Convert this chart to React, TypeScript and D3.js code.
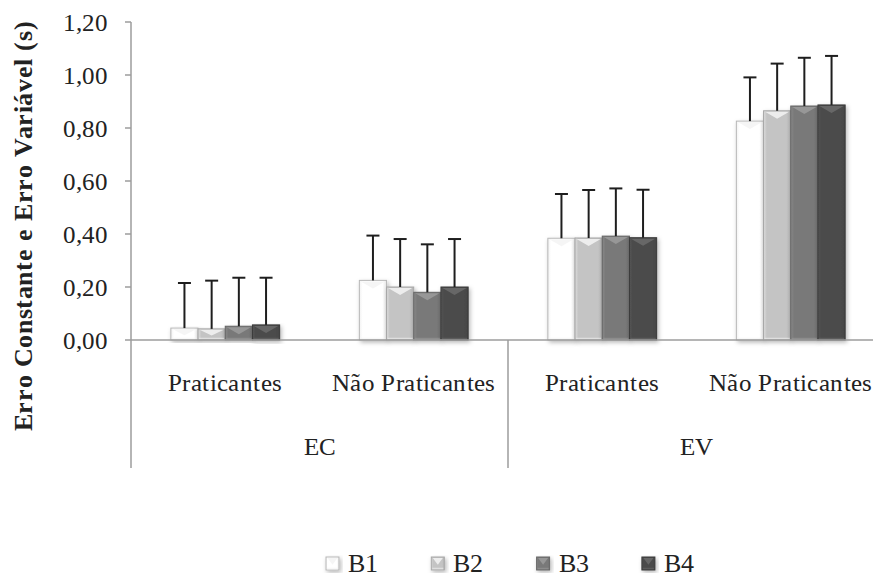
import React from "react";
import * as d3 from "d3";

// Groups of the two-level category axis
const groups = ["EC", "EV"];
const subgroups = ["Praticantes", "Não Praticantes"];
const series = ["B1", "B2", "B3", "B4"];

// Mean values per series, ordered EC-Prat, EC-Não, EV-Prat, EV-Não
const meanB1 = [0.045, 0.225, 0.384, 0.826];
const meanB2 = [0.042, 0.2, 0.385, 0.865];
const meanB3 = [0.052, 0.18, 0.392, 0.883];
const meanB4 = [0.057, 0.2, 0.386, 0.887];

// Standard deviations (upper error bars)
const sdB1 = [0.17, 0.169, 0.167, 0.165];
const sdB2 = [0.182, 0.181, 0.181, 0.178];
const sdB3 = [0.183, 0.181, 0.18, 0.182];
const sdB4 = [0.178, 0.181, 0.181, 0.185];

const yTicks = [0, 0.2, 0.4, 0.6, 0.8, 1.0, 1.2];

const means = [meanB1, meanB2, meanB3, meanB4];
const sds = [sdB1, sdB2, sdB3, sdB4];

const fills = ["#ffffff", "#c4c4c4", "#797979", "#4b4b4b"];
const edges = ["#b8b8b8", "#a8a8a8", "#666666", "#3a3a3a"];
const bevels = ["#f4f4f4", "#f2f2f2", "#9a9a9a", "#6a6a6a"];

const W = 873;
const H = 578;
const FONT = "ChartSerif, 'Liberation Serif', Tinos, 'Times New Roman', 'DejaVu Serif', 'Noto Serif', serif";

const fontCss = `
@font-face { font-family: ChartSerif; font-weight: 400; src: local("Liberation Serif"), local("LiberationSerif"), local("LiberationSerif-Regular"), local("DejaVu Serif"), local("DejaVuSerif"); }
@font-face { font-family: ChartSerif; font-weight: 700; src: local("Liberation Serif Bold"), local("LiberationSerif-Bold"), local("DejaVu Serif Bold"), local("DejaVuSerif-Bold"); }
`;

export default function App() {
  const left = 131;
  const band = 188.5;
  const cats: string[] = [];
  groups.forEach((g) => subgroups.forEach((s) => cats.push(g + "|" + s)));

  const x = d3
    .scaleBand<string>()
    .domain(cats)
    .range([left, left + band * cats.length])
    .paddingInner(0)
    .paddingOuter(0);

  const inner = d3.scaleBand<string>().domain(series).range([0, 108.8]).padding(0);
  const groupOffset = (x.bandwidth() - 108.8) / 2;

  const y = d3.scaleLinear().domain([0, 1.2]).range([340, 22]);
  const fmt = (v: number) => d3.format(".2f")(v).replace(".", ",");

  const axisColor = "#9c9c9c";
  const bw = inner.bandwidth();
  const txt = { fontFamily: FONT };

  const barShape = (
    key: string,
    bx: number,
    by: number,
    w: number,
    h: number,
    si: number
  ) => {
    const bev = Math.min(8, h * 0.6);
    return (
      <g key={key}>
        <rect x={bx} y={by} width={w} height={h} fill={`url(#grad${si})`} stroke={edges[si]} strokeWidth={1} filter="url(#shadow)" />
        <polygon
          points={`${bx + 1.5},${by + 1} ${bx + w - 1.5},${by + 1} ${bx + w / 2},${by + bev}`}
          fill={bevels[si]}
          opacity={0.9}
        />
        <line x1={bx + 1} x2={bx + w - 1} y1={by + h - 1.5} y2={by + h - 1.5} stroke={bevels[si]} strokeWidth={1.5} opacity={0.6} />
      </g>
    );
  };

  return (
    <div style={{ position: "absolute", left: 0, top: 0 }}>
      <style>{fontCss}</style>
      <svg width={W} height={H} style={{ display: "block", background: "#fff", fontFamily: FONT }}>
        <defs>
          {fills.map((c, i) => {
            const base = d3.color(c)!;
            const light = d3.color(c)!.brighter(0.35).formatHex();
            const dark = base.darker(0.25).formatHex();
            return (
              <linearGradient key={i} id={`grad${i}`} x1="0" x2="1" y1="0" y2="0">
                <stop offset="0%" stopColor={i === 0 ? "#f2f2f2" : light} />
                <stop offset="12%" stopColor={c} />
                <stop offset="85%" stopColor={c} />
                <stop offset="100%" stopColor={i === 0 ? "#e6e6e6" : dark} />
              </linearGradient>
            );
          })}
          <filter id="shadow" x="-30%" y="-10%" width="160%" height="130%">
            <feDropShadow dx="1.5" dy="2" stdDeviation="2" floodColor="#000" floodOpacity="0.28" />
          </filter>
        </defs>

        {/* y axis */}
        <line x1={left} x2={left} y1={y(1.2)} y2={y(0)} stroke={axisColor} strokeWidth={1.5} />
        {yTicks.map((t) => (
          <g key={t}>
            <line x1={left - 6} x2={left} y1={y(t)} y2={y(t)} stroke={axisColor} strokeWidth={1.5} />
            <text x={108} y={y(t)} dy="0.35em" textAnchor="end" style={txt} fontSize={25} fill="#222">
              {fmt(t)}
            </text>
          </g>
        ))}

        {/* y axis title */}
        <text
          transform={`translate(32, 226) rotate(-90)`}
          textAnchor="middle"
          style={txt}
          fontSize={26}
          fontWeight="bold"
          letterSpacing={0.6}
          fill="#222"
        >
          Erro Constante e Erro Variável (s)
        </text>

        {/* bars */}
        {cats.map((c, ci) =>
          series.map((s, si) => {
            const v = means[si][ci];
            const bx = (x(c) as number) + groupOffset + (inner(s) as number);
            const by = y(v);
            return barShape(`${c}-${s}`, bx, by, bw, y(0) - by, si);
          })
        )}

        {/* error bars */}
        {cats.map((c, ci) =>
          series.map((s, si) => {
            const v = means[si][ci];
            const e = sds[si][ci];
            const cx = (x(c) as number) + groupOffset + (inner(s) as number) + bw / 2;
            return (
              <g key={`e-${c}-${s}`} stroke="#1e1e1e" strokeWidth={2}>
                <line x1={cx} x2={cx} y1={y(v)} y2={y(v + e)} />
                <line x1={cx - 6.5} x2={cx + 6.5} y1={y(v + e)} y2={y(v + e)} />
              </g>
            );
          })
        )}

        {/* x axis */}
        <line x1={left} x2={left + band * cats.length} y1={y(0)} y2={y(0)} stroke={axisColor} strokeWidth={1.5} />
        {groups.map((g) => {
          const gx = x(g + "|" + subgroups[0]) as number;
          return (
            <line key={`sep-${g}`} x1={gx} x2={gx} y1={y(0)} y2={468} stroke={axisColor} strokeWidth={1.5} />
          );
        })}
        <line
          x1={left + band * cats.length}
          x2={left + band * cats.length}
          y1={y(0)}
          y2={468}
          stroke={axisColor}
          strokeWidth={1.5}
        />

        {/* category labels */}
        {cats.map((c) => (
          <text
            key={`lab-${c}`}
            x={(x(c) as number) + x.bandwidth() / 2}
            y={391}
            textAnchor="middle"
            style={txt}
            fontSize={25}
            letterSpacing={0.4}
            fill="#222"
          >
            {c.split("|")[1]}
          </text>
        ))}
        {groups.map((g) => {
          const gx = x(g + "|" + subgroups[0]) as number;
          return (
            <text key={`g-${g}`} x={gx + band} y={455} textAnchor="middle" style={txt} fontSize={25} fill="#222">
              {g}
            </text>
          );
        })}

        {/* legend */}
        {series.map((s, si) => {
          const lx = 326 + si * 105.3;
          return (
            <g key={`leg-${s}`}>
              {barShape(`lg-${s}`, lx, 557, 13, 13, si)}
              <text x={lx + 22} y={572} style={txt} fontSize={26} fill="#222">
                {s}
              </text>
            </g>
          );
        })}
      </svg>
    </div>
  );
}
